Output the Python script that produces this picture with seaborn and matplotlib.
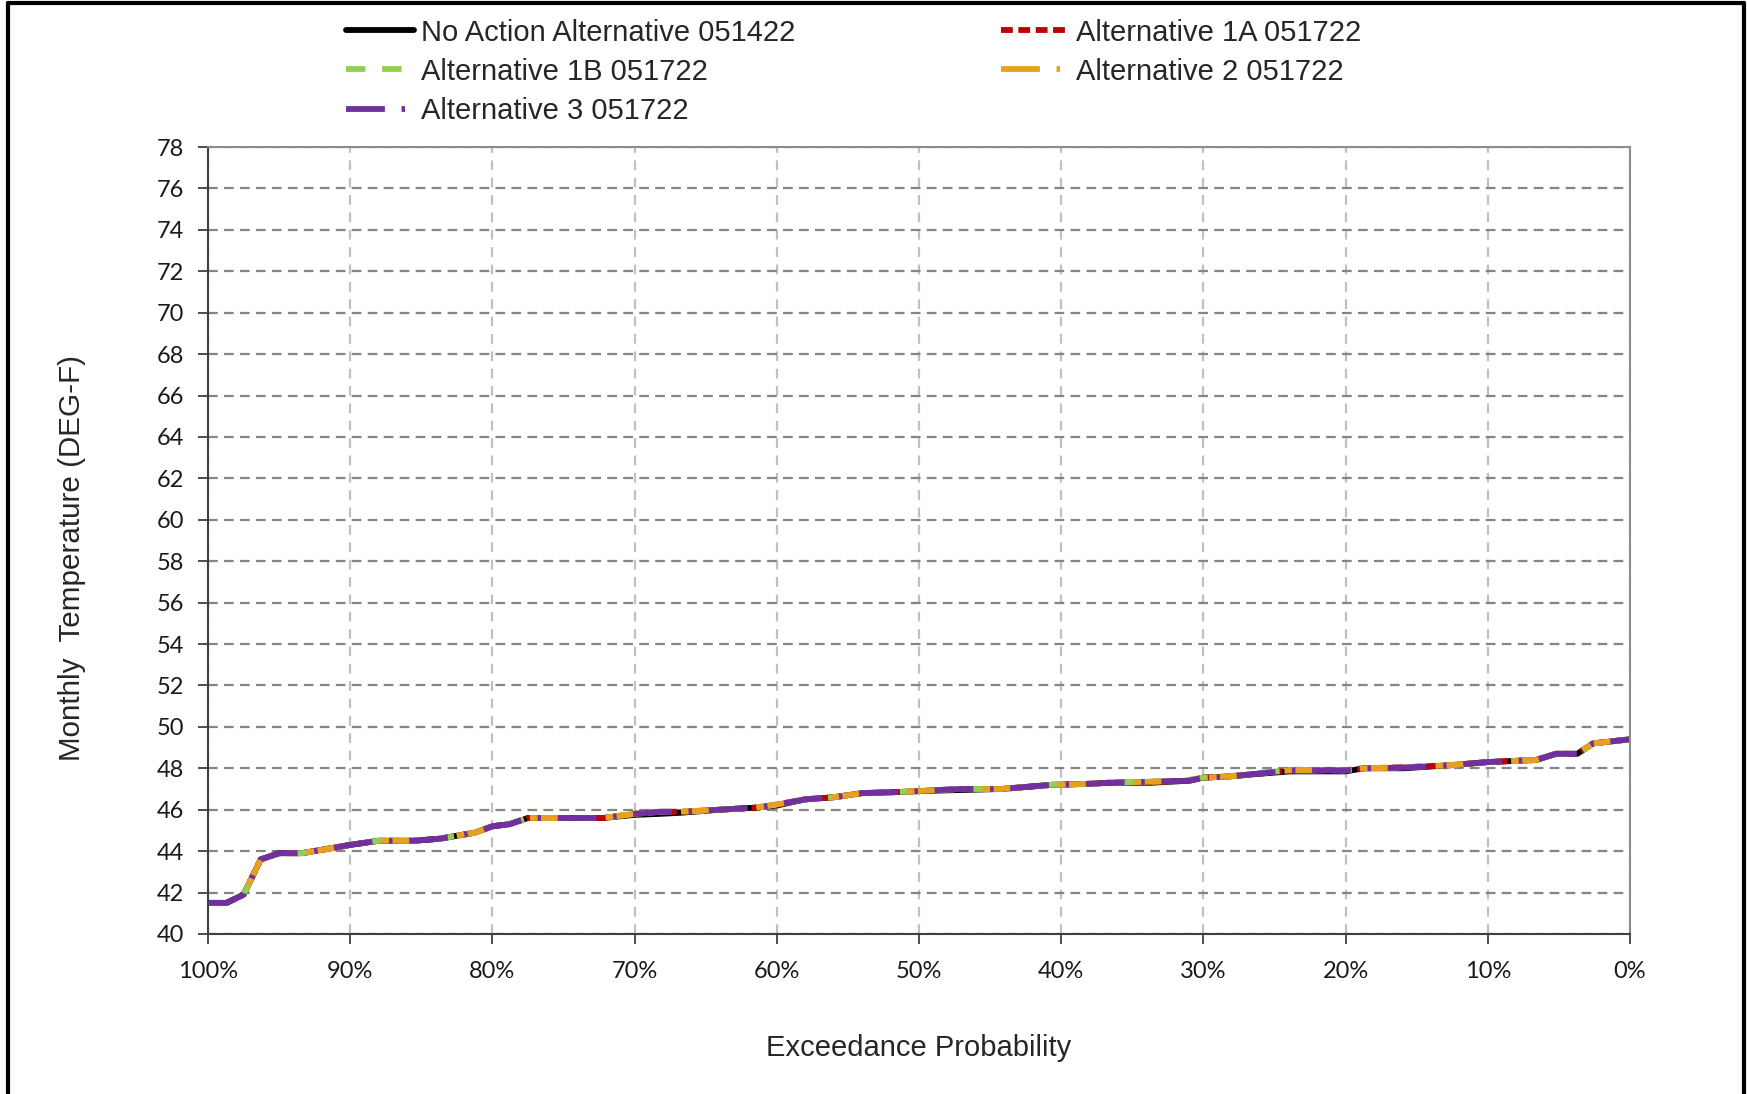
#!/usr/bin/env python3
"""Monthly temperature exceedance curves for the five alternatives."""

import matplotlib
matplotlib.use("Agg")
import matplotlib.pyplot as plt
from matplotlib.lines import Line2D
import seaborn as sns

# Exceedance probability (%) of each read point
exceedance = [100, 98.7, 97.5, 96.3, 95.0, 93.4, 91.7, 90.0, 88.0, 85.5,
              83.7, 82.0, 81.2, 80.0, 78.8, 77.5, 75.0, 72.2, 70.0, 68.2,
              66.8, 64.0, 61.5, 60.0, 58.0, 56.0, 54.0, 51.6, 50.0, 47.1,
              44.2, 40.7, 38.0, 36.7, 33.7, 31.0, 30.0, 28.3, 26.7, 23.9,
              20.0, 18.7, 15.9, 12.6, 10.0, 6.6, 5.2, 3.7, 2.6, 0.0]

# Monthly temperature (DEG-F) for each alternative
no_action = [41.5, 41.5, 41.9, 43.6, 43.9, 43.9, 44.1, 44.3, 44.5, 44.5,
             44.6, 44.8, 44.9, 45.2, 45.3, 45.6, 45.6, 45.6, 45.75, 45.8,
             45.85, 46.0, 46.1, 46.2, 46.5, 46.6, 46.8, 46.85, 46.9, 46.95,
             47.0, 47.2, 47.25, 47.3, 47.3, 47.4, 47.55, 47.6, 47.7, 47.85,
             47.85, 48.0, 48.0, 48.15, 48.3, 48.4, 48.7, 48.7, 49.2, 49.4]
alt_1a = [41.5, 41.5, 41.9, 43.6, 43.9, 43.9, 44.1, 44.3, 44.5, 44.5,
          44.6, 44.8, 44.9, 45.2, 45.3, 45.6, 45.6, 45.6, 45.8, 45.9,
          45.9, 46.0, 46.1, 46.25, 46.5, 46.6, 46.8, 46.85, 46.9, 47.0,
          47.0, 47.2, 47.25, 47.3, 47.35, 47.4, 47.55, 47.6, 47.7, 47.9,
          47.9, 48.0, 48.05, 48.15, 48.3, 48.4, 48.7, 48.7, 49.2, 49.4]
alt_1b = [41.5, 41.5, 41.9, 43.6, 43.9, 43.9, 44.1, 44.3, 44.5, 44.5,
          44.6, 44.8, 44.9, 45.2, 45.3, 45.6, 45.6, 45.6, 45.8, 45.9,
          45.9, 46.0, 46.1, 46.25, 46.5, 46.6, 46.8, 46.85, 46.9, 47.0,
          47.0, 47.2, 47.25, 47.3, 47.35, 47.45, 47.55, 47.6, 47.75, 47.9,
          47.9, 48.0, 48.05, 48.15, 48.3, 48.4, 48.7, 48.7, 49.2, 49.4]
alt_2 = [41.5, 41.5, 41.9, 43.6, 43.9, 43.9, 44.1, 44.3, 44.5, 44.5,
         44.6, 44.8, 44.9, 45.2, 45.3, 45.6, 45.6, 45.6, 45.8, 45.9,
         45.9, 46.0, 46.1, 46.25, 46.5, 46.6, 46.8, 46.85, 46.9, 47.0,
         47.0, 47.2, 47.25, 47.3, 47.35, 47.4, 47.55, 47.6, 47.7, 47.9,
         47.9, 48.0, 48.03, 48.15, 48.3, 48.4, 48.7, 48.7, 49.2, 49.4]
alt_3 = [41.5, 41.5, 41.9, 43.6, 43.9, 43.9, 44.1, 44.3, 44.5, 44.5,
         44.6, 44.8, 44.9, 45.2, 45.3, 45.6, 45.6, 45.6, 45.8, 45.9,
         45.9, 46.0, 46.1, 46.25, 46.5, 46.6, 46.8, 46.85, 46.9, 47.0,
         47.0, 47.2, 47.25, 47.3, 47.35, 47.4, 47.55, 47.6, 47.7, 47.9,
         47.9, 48.0, 48.03, 48.15, 48.3, 48.4, 48.7, 48.7, 49.2, 49.4]

series_labels = ["No Action Alternative 051422", "Alternative 1A 051722",
                 "Alternative 1B 051722", "Alternative 2 051722",
                 "Alternative 3 051722"]
series_values = [no_action, alt_1a, alt_1b, alt_2, alt_3]
series_colors = ["#000000", "#C00000", "#92D050", "#E8A020", "#7030A0"]
# on/off patterns in points (None = solid) and the phase used in the plot
series_dashes = [None, (8.5, 4.0), (14, 12), (28, 12, 2.5, 12), (28, 12, 2.5, 12)]
series_offsets = [0, 0, 0, 20, 0]

y_ticks = list(range(40, 80, 2))
x_ticks = list(range(0, 101, 10))

sns.set_style("white")
plt.rcParams["font.family"] = ["Liberation Sans", "DejaVu Sans"]
plt.rcParams["lines.scale_dashes"] = False

fig = plt.figure(figsize=(17.47, 10.94), dpi=100)
ax = fig.add_axes([0.1191, 0.1463, 0.8139, 0.7193])

legend_handles = []
for label, vals, color, dash, off in zip(series_labels, series_values,
                                         series_colors, series_dashes,
                                         series_offsets):
    kws = dict(color=color, lw=4.2, sort=False, estimator=None,
               ax=ax, legend=False)
    line_ax = sns.lineplot(x=exceedance, y=vals, **kws)
    line = line_ax.get_lines()[-1]
    handle = Line2D([], [], color=color, lw=4.2)
    if dash is not None:
        line.set_linestyle((off, dash))
        line.set_dash_capstyle("butt")
        handle.set_linestyle((0, dash))
        handle.set_dash_capstyle("butt")
    legend_handles.append(handle)

ax.set_xlim(100, 0)
ax.set_ylim(40, 78)
ax.set_xticks(x_ticks)
ax.set_xticklabels([f"{t}%" for t in x_ticks])
ax.set_yticks(y_ticks)

for tl in ax.get_xticklabels() + ax.get_yticklabels():
    tl.set_fontfamily("Lato")
    tl.set_fontsize(17)
    tl.set_color("#1a1a1a")

ax.tick_params(axis="y", direction="out", length=7.5, width=1.3,
               color="#404040", pad=10, left=True)
ax.tick_params(axis="x", direction="out", length=7.5, width=1.3,
               color="#404040", pad=12, bottom=True)

# dashed grid: dark horizontal, light vertical
ax.yaxis.grid(True, color="#858585", lw=1.6, linestyle=(0, (7, 4.5)))
ax.xaxis.grid(True, color="#C0C0C0", lw=1.6, linestyle=(0, (7, 5.5)))
ax.set_axisbelow(True)

ax.spines["left"].set_color("#404040")
ax.spines["bottom"].set_color("#404040")
ax.spines["top"].set_color("#8C8C8C")
ax.spines["right"].set_color("#8C8C8C")
for sp in ax.spines.values():
    sp.set_linewidth(1.5)

ax.set_xlabel("Exceedance Probability", fontsize=21)
ax.set_ylabel("Monthly  Temperature (DEG-F)", fontsize=21.3)
ax.xaxis.set_label_coords(0.5, -0.127)
ax.yaxis.set_label_coords(-0.086, 0.478)

# legend fills column-wise; reorder so rows read like the original
order = [0, 2, 4, 1, 3]
fig.legend([legend_handles[i] for i in order], [series_labels[i] for i in order],
           loc="upper left", bbox_to_anchor=(0.1983, 0.983),
           ncol=2, frameon=False, fontsize=21, handlelength=2.3,
           handletextpad=0.25, columnspacing=7.07, labelspacing=0.38,
           borderpad=0, borderaxespad=0)

# outer chart frame (left, top, right)
frame_kws = dict(color="black", lw=3, transform=fig.transFigure)
fig.add_artist(Line2D([0.0048, 0.0048], [0.0, 0.9975], **frame_kws))
fig.add_artist(Line2D([0.0048, 0.9985], [0.9975, 0.9975], **frame_kws))
fig.add_artist(Line2D([0.9985, 0.9985], [0.0, 0.9975], **frame_kws))

fig.savefig("out.png", dpi=100)
